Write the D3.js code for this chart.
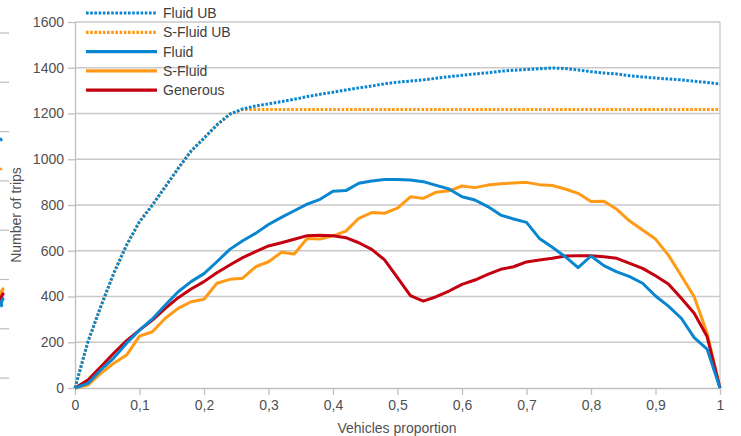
<!DOCTYPE html>
<html>
<head>
<meta charset="utf-8">
<script src="https://cdn.jsdelivr.net/npm/d3@7"></script>
<style>
  body { margin: 0; background: #fff; }
  svg { display: block; font-family: 'Liberation Sans', Arial, sans-serif; }
</style>
</head>
<body>
<svg id="chart"></svg>
<script>
// vehicles proportion, step 0.02
const proportions = [0,0.02,0.04,0.06,0.08,0.1,0.12,0.14,0.16,0.18,0.2,0.22,0.24,0.26,0.28,0.3,0.32,0.34,0.36,0.38,0.4,
  0.42,0.44,0.46,0.48,0.5,0.52,0.54,0.56,0.58,0.6,0.62,0.64,0.66,0.68,0.7,0.72,0.74,0.76,0.78,0.8,
  0.82,0.84,0.86,0.88,0.9,0.92,0.94,0.96,0.98,1]

const fluidUB = [0,202,356,501,625,727,800,880,960,1036,1092,1150,1197,1220,1233,1242,1252,1262,1274,1284,1293,
  1303,1312,1320,1330,1337,1342,1347,1354,1361,1367,1373,1378,1385,1389,1392,1396,1399,1397,1390,1383,
  1377,1373,1365,1360,1355,1351,1347,1341,1336,1329]
const sFluidUB = [0,202,356,501,625,727,800,880,960,1036,1092,1150,1197,1218,1218,1218,1218,1218,1218,1218,1218,
  1218,1218,1218,1218,1218,1218,1218,1218,1218,1218,1218,1218,1218,1218,1218,1218,1218,1218,1218,1218,
  1218,1218,1218,1218,1218,1218,1218,1218,1218,1218]
const fluid = [0,20,79,131,196,253,302,363,421,465,500,552,606,644,676,715,746,775,804,825,860,
  863,895,905,911,911,909,902,886,870,836,822,793,756,739,724,654,615,574,526,577,
  535,508,487,458,402,358,305,220,170,0]
const sFluid = [0,13,64,108,144,227,246,305,348,377,388,458,475,480,530,552,593,586,654,651,665,
  686,742,767,764,786,836,829,856,862,883,876,887,893,896,899,889,885,870,851,815,
  816,781,730,691,651,581,491,399,239,0]
const generous = [0,35,93,152,207,253,297,348,395,433,465,504,538,570,596,621,635,650,666,668,666,
  657,635,606,560,482,404,380,399,424,453,472,497,519,530,551,560,567,577,578,578,
  574,567,545,523,491,455,392,327,225,0]

const seriesNames = ['Fluid UB', 'S-Fluid UB', 'Fluid', 'S-Fluid', 'Generous']
const yTicks = [0,200,400,600,800,1000,1200,1400,1600]
const xTicks = [0,0.1,0.2,0.3,0.4,0.5,0.6,0.7,0.8,0.9,1]

const blue = '#0a86d1'
const orange = '#ff9a16'
const red = '#c30010'
const grid = '#c9c9c9'

const series = [
  {name: seriesNames[0], values: fluidUB, color: blue, dotted: true},
  {name: seriesNames[1], values: sFluidUB, color: orange, dotted: true},
  {name: seriesNames[2], values: fluid, color: blue, dotted: false},
  {name: seriesNames[3], values: sFluid, color: orange, dotted: false},
  {name: seriesNames[4], values: generous, color: red, dotted: false}
]

const width = 741
const height = 436
const svg = d3.select('#chart').attr('width', width).attr('height', height)

const x = d3.scaleLinear().domain([0, 1]).range([75, 720])
const y = d3.scaleLinear().domain([0, 1600]).range([388, 22])

// leftovers of a neighbouring chart at the left edge
const edge = svg.append('g')
d3.range(8).forEach(i => {
  edge.append('line').attr('x1', 0).attr('x2', 9)
    .attr('y1', 33 + i * 49.3).attr('y2', 33 + i * 49.3)
    .attr('stroke', '#bdbdbd').attr('stroke-width', 1.2)
})
edge.append('path').attr('d', 'M0,138 L2,141').attr('stroke', blue).attr('stroke-width', 2.5)
edge.append('path').attr('d', 'M0,168 L2,170').attr('stroke', orange).attr('stroke-width', 2)
;[[orange, 288], [red, 293], [blue, 298]].forEach(([c, yy]) => {
  edge.append('path').attr('d', `M4,${yy} Q0,${yy + 3} 2,${yy + 9}`)
    .attr('fill', 'none').attr('stroke', c).attr('stroke-width', 3)
})

// gridlines
svg.append('g')
  .selectAll('line')
  .data(yTicks.filter(d => d > 0))
  .enter()
  .append('line')
  .attr('x1', 75).attr('x2', 720)
  .attr('y1', d => y(d)).attr('y2', d => y(d))
  .attr('stroke', grid).attr('stroke-width', 1.3)

// right border
svg.append('line')
  .attr('x1', 720).attr('x2', 720).attr('y1', y(1600)).attr('y2', y(0))
  .attr('stroke', grid).attr('stroke-width', 1.3)

const yAxis = svg.append('g')
  .attr('transform', 'translate(75,0)')
  .call(d3.axisLeft(y).tickValues(yTicks).tickSize(7).tickPadding(4).tickSizeOuter(0)
    .tickFormat(d3.format('d')))
const xAxis = svg.append('g')
  .attr('transform', 'translate(0,388)')
  .call(d3.axisBottom(x).tickValues(xTicks).tickSize(7).tickPadding(5).tickSizeOuter(0)
    .tickFormat(d => d3.format('.1~f')(d).replace('.', ',')))

;[yAxis, xAxis].forEach(ax => {
  ax.select('.domain').attr('stroke', '#bfbfbf').attr('stroke-width', 1.3)
  ax.selectAll('.tick line').attr('stroke', '#bfbfbf').attr('stroke-width', 1.3)
  ax.selectAll('.tick text').attr('fill', '#505050').style('font-size', '14px')
    .style('font-family', "'Liberation Sans', Arial, sans-serif")
})

svg.append('text')
  .attr('x', 397).attr('y', 433)
  .attr('text-anchor', 'middle')
  .attr('fill', '#505050').style('font-size', '14px')
  .text('Vehicles proportion')

svg.append('text')
  .attr('transform', 'translate(21,215) rotate(-90)')
  .attr('text-anchor', 'middle')
  .attr('fill', '#505050').style('font-size', '14px')
  .text('Number of trips')

const line = d3.line()
  .x((d, i) => x(proportions[i]))
  .y(d => y(d))

// draw order: solid first, dotted upper bounds on top
const drawOrder = [3, 4, 2, 1, 0]
svg.append('g')
  .selectAll('path')
  .data(drawOrder.map(i => series[i]))
  .enter()
  .append('path')
  .attr('d', d => line(d.values))
  .attr('fill', 'none')
  .attr('stroke', d => d.color)
  .attr('stroke-width', 3)
  .attr('stroke-linejoin', 'round')
  .attr('stroke-dasharray', d => d.dotted ? '2.6,1.6' : null)

// legend
const legend = svg.append('g')
  .selectAll('g')
  .data(series)
  .enter()
  .append('g')
  .attr('transform', (d, i) => `translate(0,${13 + i * 19.3})`)

legend.append('line')
  .attr('x1', 86).attr('x2', 157)
  .attr('stroke', d => d.color)
  .attr('stroke-width', 3.2)
  .attr('stroke-dasharray', d => d.dotted ? '2.6,1.6' : null)

legend.append('text')
  .attr('x', 163).attr('dy', '0.35em')
  .attr('fill', '#404040').style('font-size', '14px')
  .text(d => d.name)
</script>
</body>
</html>
